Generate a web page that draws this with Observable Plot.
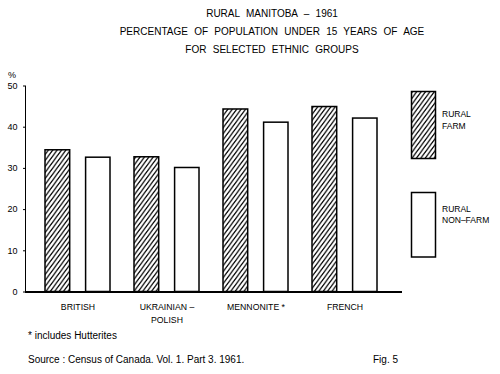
<!DOCTYPE html>
<html>
<head>
<meta charset="utf-8">
<script src="https://cdn.jsdelivr.net/npm/d3@7"></script>
<script src="https://cdn.jsdelivr.net/npm/@observablehq/plot@0.6"></script>
<style>
  html, body { margin: 0; padding: 0; background: white; }
  #wrap { position: relative; width: 500px; height: 374px; background: white; overflow: hidden; }
  #wrap svg { position: absolute; left: 0; top: 0; }
  #overlay { pointer-events: none; }
  #overlay text { font-family: "Liberation Sans", Arial, sans-serif; fill: #000; }
</style>
</head>
<body>
<div id="wrap">
  <div id="chart"></div>
  <svg id="overlay" width="500" height="374" viewBox="0 0 500 374">
    <defs>
      <pattern id="hatch" patternUnits="userSpaceOnUse" width="4.4" height="6">
        <path d="M-1.1,1.5 L1.1,-1.5 M0,6 L4.4,0 M3.3,7.5 L5.5,4.5" stroke="#000" stroke-width="1.25" fill="none"/>
      </pattern>
    </defs>
    <g font-size="10" style="word-spacing:3.5px" text-anchor="middle">
      <text x="272" y="17">RURAL MANITOBA – 1961</text>
      <text x="272" y="34.5">PERCENTAGE OF POPULATION UNDER 15 YEARS OF AGE</text>
      <text x="272" y="52.5">FOR SELECTED ETHNIC GROUPS</text>
    </g>
    <text x="8" y="78" font-size="9">%</text>
    <rect x="411.5" y="91.5" width="24" height="67" fill="url(#hatch)" stroke="#000" stroke-width="1.5"/>
    <rect x="411.5" y="192.5" width="24" height="64.5" fill="white" stroke="#000" stroke-width="1.5"/>
    <g font-size="8.5">
      <text x="442" y="117.3">RURAL</text>
      <text x="442" y="129.3">FARM</text>
      <text x="442" y="211.7">RURAL</text>
      <text x="442" y="222.7">NON–FARM</text>
    </g>
    <g font-size="10">
      <text x="28" y="339">* includes Hutterites</text>
      <text x="28" y="362.5">Source : Census of Canada. Vol. 1. Part 3. 1961.</text>
      <text x="373" y="362.5">Fig. 5</text>
    </g>
  </svg>
</div>
<script>
const groups = ["BRITISH", "UKRAINIAN –\nPOLISH", "MENNONITE *", "FRENCH"];
const ruralFarm = [34.4, 32.7, 44.3, 44.9];
const ruralNonFarm = [32.6, 30.1, 41.1, 42.1];
const yTicks = [0, 10, 20, 30, 40, 50];

const farmRows = groups.map((g, i) => ({group: g, value: ruralFarm[i]}));
const nonFarmRows = groups.map((g, i) => ({group: g, value: ruralNonFarm[i]}));

const chart = Plot.plot({
  width: 500,
  height: 374,
  marginTop: 85.5,
  marginBottom: 82.5,
  marginLeft: 25,
  marginRight: 98,
  style: {fontFamily: "Liberation Sans, Arial, sans-serif", fontSize: "9px", background: "white", color: "#000"},
  x: {domain: groups, paddingInner: 0.2676, paddingOuter: 0.2384, align: 0.445, axis: null},
  y: {domain: [0, 50], ticks: yTicks, tickSize: 2, tickPadding: 6, line: true, label: null},
  marks: [
    Plot.barY(farmRows, {x: "group", y: "value", fill: "url(#hatch)", stroke: "#000", strokeWidth: 1.5, insetRight: 40.3}),
    Plot.barY(nonFarmRows, {x: "group", y: "value", fill: "white", stroke: "#000", strokeWidth: 1.5, insetLeft: 40.6}),
    Plot.ruleY([0], {stroke: "#000", strokeWidth: 2}),
    Plot.text(groups, {x: d => d, text: d => d, frameAnchor: "bottom", lineAnchor: "top", dy: 9.3, lineHeight: 1.44, fontSize: 8.7, fill: "#000"})
  ]
});
document.getElementById("chart").appendChild(chart);
</script>
</body>
</html>
